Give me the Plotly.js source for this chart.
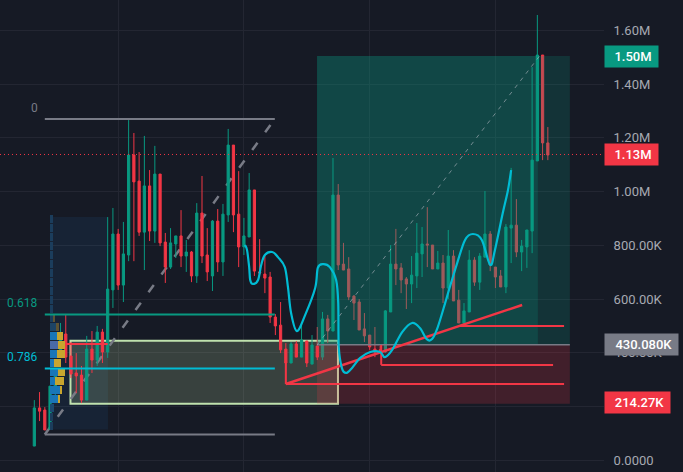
<!DOCTYPE html>
<html>
<head>
<meta charset="utf-8">
<script src="https://cdn.plot.ly/plotly-3.0.1.min.js"></script>
<style>html,body{margin:0;padding:0;background:#161a25}#chart{width:683px;height:472px}</style>
</head>
<body>
<div id="chart"></div>
<script>
// candles, price in thousands, x is just the bar number
var open_ = [53,195,187,116,273,403,470,388,325,317,224,414,373,477,403,634,842,652,764,1136,1039,849,1021,853,1065,812,719,805,835,760,775,686,920,764,686,890,738,913,1173,916,794,831,1006,701,693,682,533,503,414,362,433,384,444,358,425,384,526,481,987,730,712,611,589,489,466,414,411,403,552,730,716,675,656,686,768,805,801,712,734,641,760,596,511,552,745,663,756,842,719,686,645,864,875,775,794,853,1114,1508,1181];
var high = [224,254,198,276,343,511,544,440,399,351,463,481,500,489,905,939,861,887,1266,1218,1147,1207,1080,1170,1065,846,864,835,931,820,779,957,1058,864,894,935,954,1233,1173,1076,902,1069,1006,823,764,701,544,589,436,440,444,503,444,466,496,552,541,1125,1028,809,756,615,600,548,466,496,425,559,801,861,734,682,760,883,868,942,801,779,764,857,782,634,585,782,756,771,1002,853,719,708,879,1088,972,820,857,1463,1657,1508,1240];
var low = [53,146,113,116,243,381,362,306,250,213,224,325,351,362,381,567,634,589,741,741,835,708,816,809,797,660,712,753,719,701,663,660,734,667,630,701,686,887,849,719,764,831,686,689,622,511,466,399,284,362,384,384,347,358,373,373,436,481,708,708,596,522,485,440,411,384,403,399,552,652,622,563,585,641,682,719,712,712,585,600,593,511,503,552,649,634,756,704,641,645,622,734,756,704,716,771,1114,1117,1117];
var close_ = [195,183,113,276,317,463,384,321,314,224,414,373,477,403,637,842,652,768,1136,1036,849,1021,853,1065,809,719,809,835,760,775,686,920,760,701,890,738,916,1173,913,794,835,1006,704,697,678,533,500,411,362,433,384,448,362,429,384,526,481,987,727,708,608,585,485,463,422,403,409,556,730,712,671,656,689,771,805,801,712,734,641,760,593,511,556,745,663,760,842,727,682,645,868,875,775,797,857,1117,1508,1181,1136];

// volume profile on the left
var profileLevel = [898,864,831,797,764,730,697,663,630,596,563,529,496,463,429,395,362,328,295,261,228,195,161,128];
var profileUp = [3,3,3,3,3,3,3,3,3,3,3,3,6,7,8,7,4,8,5,10,8,4,3,3];
var profileDown = [0,0,0,0,0,0,0,0,0,0,0,2,3,6,7,8,7,7,9,2,2,0,0,0];
var profileUpColor = ['#1b3d5c','#1b3d5c','#1b3d5c','#1b3d5c','#1b3d5c','#1b3d5c','#1b3d5c','#1b3d5c','#1b3d5c','#1b3d5c','#1b3d5c','#1b3d5c','#1d4465','#1976b8','#4a6aa8','#1976b8','#1976b8','#1976b8','#1976b8','#1976b8','#1976b8','#1b4a70','#1b3d5c','#1b3d5c'];
var profileDownColor = ['#5e5433','#5e5433','#5e5433','#5e5433','#5e5433','#5e5433','#5e5433','#5e5433','#5e5433','#5e5433','#5e5433','#5e5433','#5e5433','#c8a52e','#c8a52e','#c8a52e','#c8a52e','#c8a52e','#c8a52e','#c8a52e','#c8a52e','#5e5433','#5e5433','#5e5433'];

// the cyan curve
var curveX = [40.2,40.6,41,41.2,41.7,42.7,43.3,44,45.4,46.5,47.8,48.4,49,50.1,51.7,53.6,54.1,55.1,56.4,57.6,58,58.1,58.7,59.5,60.6,62.2,64.1,66,66.9,68.3,70.2,72.1,73.6,74.9,75.9,77,78.4,79.3,80.7,82.2,83.7,85.4,87,87.9,89.4,90.4,91];
var curveY = [801,782,719,671,656,671,727,764,775,756,719,645,548,481,541,641,716,730,719,671,585,422,343,325,343,381,403,403,384,411,477,511,492,451,451,496,585,645,734,820,842,820,727,782,920,1006,1080];

var yTicks = [1600,1400,1200,1000,800,600,400,200,0];
var yTickText = ['1.60M','1.40M','1.20M','1.00M','800.00K','600.00K','400.00K','','0.0000'];
var xGrid = [16,40,64,88];

var fibTop = 1270, fibBottom = 96, fib618 = 543, fib786 = 342;
var lastPrice = 1138;
var entry = 430, target = 1504, stop = 210;
var green = '#089981', red = '#f23645', grey = '#787b86', cyan = '#00bcd4';

var indices = open_.map(function (v, i) { return i; });

var candles = {
  type: 'candlestick', x: indices, open: open_, high: high, low: low, close: close_,
  increasing: {line: {color: green, width: 1}, fillcolor: green},
  decreasing: {line: {color: red, width: 1}, fillcolor: red},
  whiskerwidth: 0, hoverinfo: 'skip', xaxis: 'x', yaxis: 'y'
};
var profileA = {
  type: 'bar', orientation: 'h', y: profileLevel, x: profileUp, width: 30,
  marker: {color: profileUpColor}, xaxis: 'x2', yaxis: 'y', hoverinfo: 'skip'
};
var profileB = {
  type: 'bar', orientation: 'h', y: profileLevel, x: profileDown, width: 30,
  marker: {color: profileDownColor}, xaxis: 'x2', yaxis: 'y', hoverinfo: 'skip'
};

function seg(x0, y0, x1, y1, color, width, dash, layer) {
  return {type: 'line', xref: 'x', yref: 'y', x0: x0, y0: y0, x1: x1, y1: y1, layer: layer || 'above',
    line: {color: color, width: width, dash: dash || 'solid'}};
}
function box(x0, y0, x1, y1, fill, layer, lineColor) {
  return {type: 'rect', xref: 'x', yref: 'y', x0: x0, y0: y0, x1: x1, y1: y1, layer: layer || 'above',
    fillcolor: fill, line: {width: lineColor ? 2 : 0, color: lineColor || fill}};
}
// smooth path through the curve points
function curvePath(xs, ys) {
  var d = 'M' + xs[0] + ',' + ys[0];
  for (var i = 0; i < xs.length - 1; i++) {
    var a = Math.max(i - 1, 0), b = Math.min(i + 2, xs.length - 1);
    d += ' C' + (xs[i] + (xs[i + 1] - xs[a]) / 6) + ',' + (ys[i] + (ys[i + 1] - ys[a]) / 6) + ' ' +
      (xs[i + 1] - (xs[b] - xs[i]) / 6) + ',' + (ys[i + 1] - (ys[b] - ys[i]) / 6) + ' ' + xs[i + 1] + ',' + ys[i + 1];
  }
  return d;
}

var shapes = [
  box(3, 115, 14.06, 905, 'rgba(33,150,243,0.08)', 'between'),
  box(6.9, stop, 57.95, 445, 'rgba(197,225,165,0.2)', 'between', '#c0e2ae'),
  seg(2, fibBottom, 45.9, fibTop, grey, 2.5, '9px,13px', 'between'),
  seg(2, fibTop, 45.9, fibTop, grey, 2),
  seg(2, fibBottom, 45.9, fibBottom, grey, 2),
  seg(2, fib618, 45.9, fib618, green, 2),
  seg(2, fib786, 45.9, fib786, cyan, 2),
  box(53.95, entry, 102.2, target, 'rgba(8,153,129,0.2)'),
  box(53.95, entry, 96.1, target, 'rgba(8,153,129,0.2)'),
  box(53.95, stop, 102.2, entry, 'rgba(242,54,69,0.2)'),
  seg(53.95, entry, 102.2, entry, grey, 1.5),
  seg(54, entry, 96.4, target, 'rgba(180,185,195,0.6)', 1, '4px,5px'),
  {type: 'line', xref: 'paper', yref: 'y', x0: 0, x1: 1, y0: lastPrice, y1: lastPrice, layer: 'above',
    line: {color: red, width: 1, dash: '1px,3px'}},
  seg(6, 433, 14, 433, red, 2),
  seg(48, 284, 93.1, 578, red, 2.5),
  seg(48, 362, 48, 284, red, 2),
  seg(48, 284, 101.1, 284, red, 2),
  seg(66.2, 429, 66.2, 355, red, 2),
  seg(66.2, 355, 99, 355, red, 2),
  seg(81.2, 500, 101.1, 500, red, 2),
  {type: 'path', xref: 'x', yref: 'y', layer: 'above', path: curvePath(curveX, curveY),
    line: {color: cyan, width: 2.2}}
];

function priceTag(text, y, color, width) {
  return {xref: 'paper', yref: 'y', x: 1, y: y, xanchor: 'left', yanchor: 'middle', text: text + '&nbsp;&nbsp;', showarrow: false,
    bgcolor: color, width: width, height: 21, align: 'right', borderpad: 0,
    font: {family: 'Roboto, sans-serif', size: 13, weight: 500, color: '#ffffff'}};
}
function fibLabel(text, x, y, color) {
  return {xref: 'x', yref: 'y', x: x, y: y, xanchor: 'right', yanchor: 'middle', text: text, showarrow: false,
    font: {family: 'Roboto, sans-serif', size: 12, color: color}};
}

var layout = {
  width: 683, height: 472,
  margin: {l: 0, r: 79, t: 0, b: 0, pad: 0},
  paper_bgcolor: '#161a25', plot_bgcolor: '#161a25',
  showlegend: false, barmode: 'stack', boxgap: 0.4,
  xaxis: {range: [-6.55, 108.72], domain: [0, 1], tickvals: xGrid, showticklabels: false, ticks: '',
    gridcolor: '#232632', gridwidth: 1, zeroline: false, showline: false, rangeslider: {visible: false}},
  // one unit of the profile is one pixel, starting where the profile starts
  xaxis2: {range: [-50, 554], overlaying: 'x', anchor: 'y', visible: false, showgrid: false},
  yaxis: {range: [-43.5, 1712.8], side: 'right', tickvals: yTicks, ticktext: yTickText, ticks: 'outside',
    ticklen: 6, tickcolor: 'rgba(0,0,0,0)', gridcolor: '#232632', gridwidth: 1, zeroline: false, showline: false,
    tickfont: {family: 'Roboto, sans-serif', size: 13, color: '#a6a9b2'}},
  shapes: shapes,
  annotations: [
    priceTag('1.50M', 1504, green, 53),
    priceTag('1.13M', 1138, red, 53),
    priceTag('430.080K', 430, grey, 73),
    priceTag('214.27K', 214, red, 65),
    fibLabel('0', 1.0, 1311, grey),
    fibLabel('0.618', 0.9, 586, green),
    fibLabel('0.786', 0.9, 385, cyan)
  ]
};

Plotly.newPlot('chart', [candles, profileA, profileB], layout, {displayModeBar: false, staticPlot: true});
</script>
</body>
</html>
